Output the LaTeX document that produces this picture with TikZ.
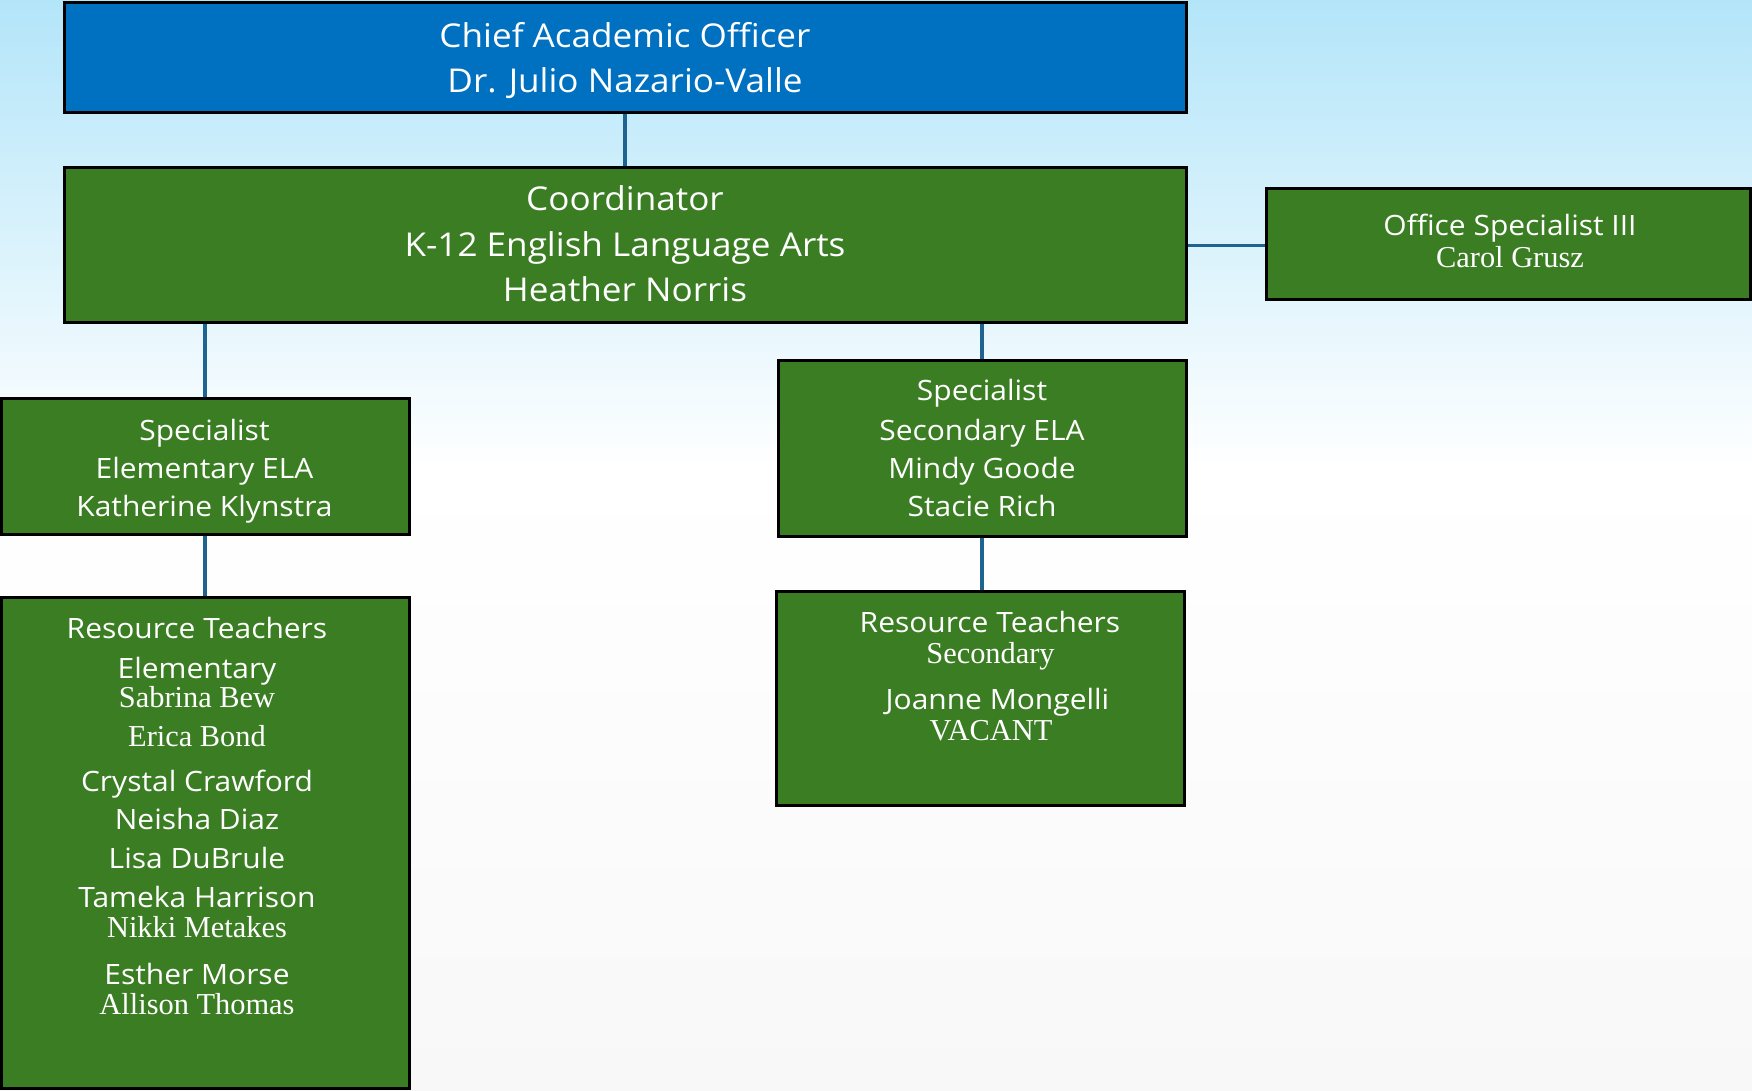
\documentclass[tikz,border=0pt]{standalone}
\usepackage{fontspec}
\setmainfont{Open Sans}[FakeStretch=1.07]
\newfontfamily\sitka{Liberation Serif}

\definecolor{bgtop}{HTML}{B3E5F9}
\definecolor{bgbot}{HTML}{F8F8F8}
\definecolor{boxblue}{HTML}{0070C0}
\definecolor{boxgreen}{HTML}{3B7D23}
\definecolor{linkblue}{HTML}{1F6391}

\newcommand\bigsans{\fontsize{16.4}{20}\selectfont}
\newcommand\midsans{\fontsize{14}{17}\selectfont}
\newcommand\smsans{\fontsize{14}{16}\selectfont}
\newcommand\smserif{\sitka\fontsize{15.2}{18}\selectfont}

\begin{document}
\begin{tikzpicture}[x=0.5pt, y=-0.5pt]
%define
\tikzstyle{orgbox} = [rectangle, draw=black, line width=1.5pt, fill=boxgreen, inner sep=0pt]
\tikzstyle{ceobox} = [orgbox, fill=boxblue]
\tikzstyle{link} = [draw=linkblue, line width=1.8pt]
\tikzstyle{txtline} = [anchor=base, text=white, inner sep=0pt]

%background
\useasboundingbox (0,0) rectangle (1752,1091);
\shade[top color=bgtop, bottom color=white] (0,0) rectangle (1752,470);
\shade[top color=white, bottom color=bgbot] (0,469) rectangle (1752,1091);

%boxes
\node[ceobox, minimum width=561pt, minimum height=55.25pt] (cao) at (625,57.75) {};
\node[orgbox, minimum width=561pt, minimum height=77.5pt] (coord) at (625,245.5) {};
\node[orgbox, minimum width=242pt, minimum height=55.5pt] (office) at (1508,244.5) {};
\node[orgbox, minimum width=204pt, minimum height=67.5pt] (specelem) at (205,466.5) {};
\node[orgbox, minimum width=203.75pt, minimum height=87.5pt] (specsec) at (982.25,448.5) {};
\node[orgbox, minimum width=204pt, minimum height=245.5pt] (rtelem) at (205,842.5) {};
\node[orgbox, minimum width=204.25pt, minimum height=106.75pt] (rtsec) at (980.25,698.25) {};

%texts
\foreach \yy/\fnt/\txt [count=\i] in {47.3/\bigsans/Chief Academic Officer, 92.7/\bigsans/Dr. Julio Nazario-Valle}
  \node[txtline, font=\fnt] (cao-\i) at (625,\yy) {\txt};
\foreach \yy/\fnt/\txt [count=\i] in {210.7/\bigsans/Coordinator, 256.7/\bigsans/K-12 English Language Arts, 301.7/\bigsans/Heather Norris}
  \node[txtline, font=\fnt] (coord-\i) at (625,\yy) {\txt};
\foreach \yy/\fnt/\txt [count=\i] in {236/\midsans/Office Specialist III, 267.3/\smserif/Carol Grusz}
  \node[txtline, font=\fnt] (office-\i) at (1510,\yy) {\txt};
\foreach \yy/\fnt/\txt [count=\i] in {440.3/\smsans/Specialist, 478.9/\smsans/Elementary ELA, 516/\smsans/Katherine Klynstra}
  \node[txtline, font=\fnt] (specelem-\i) at (204.5,\yy) {\txt};
\foreach \yy/\fnt/\txt [count=\i] in {400.7/\smsans/Specialist, 440/\smsans/Secondary ELA, 478.3/\smsans/Mindy Goode, 516/\smsans/Stacie Rich}
  \node[txtline, font=\fnt] (specsec-\i) at (982,\yy) {\txt};
\foreach \yy/\fnt/\txt [count=\i] in {638.5/\smsans/Resource Teachers, 678.4/\smsans/Elementary, 707.4/\smserif/Sabrina Bew, 746.4/\smserif/Erica Bond, 791.8/\smsans/Crystal Crawford, 829.9/\smsans/Neisha Diaz, 868.9/\smsans/Lisa DuBrule, 907/\smsans/Tameka Harrison, 937.8/\smserif/Nikki Metakes, 984/\smsans/Esther Morse, 1014.9/\smserif/Allison Thomas}
  \node[txtline, font=\fnt] (rtelem-\i) at (197,\yy) {\txt};
\foreach \yy/\xx/\fnt/\txt [count=\i] in {632.7/990/\smsans/Resource Teachers, 663.3/990.5/\smserif/Secondary, 709.3/997.5/\smsans/Joanne Mongelli, 740/991/\smserif/VACANT}
  \node[txtline, font=\fnt] (rtsec-\i) at (\xx,\yy) {\txt};

%links
\draw[link] (cao) -- (coord);
\draw[link] (coord.east) -- (coord.east -| office.west);
\draw[link] (specelem.north) -- (specelem.north |- coord.south);
\draw[link] (specsec.north) -- (specsec.north |- coord.south);
\draw[link] (specelem) -- (rtelem);
\draw[link] (specsec.south) -- (specsec.south |- rtsec.north);

\end{tikzpicture}
\end{document}
